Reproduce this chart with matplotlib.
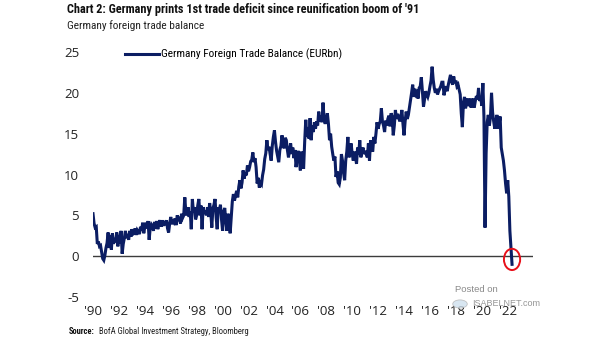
import matplotlib
matplotlib.use("Agg")
import matplotlib.pyplot as plt
from matplotlib.patches import Ellipse, Circle
import numpy as np

# Monthly German foreign trade balance, EUR bn, Jan 1990 - May 2022
bal_1990s = [
    5.2, 4.0, 3.5, 3.6, 1.5, 1.8, 1.2, 1.3, 0.5, -0.3, -0.5, 0.1,   # 1990
    1.0, 1.6, 2.9, 1.0, 2.6, 0.8, 2.8, 1.5, 2.2, 1.7, 2.9, 1.2,     # 1991
    2.6, 1.6, 3.1, 0.3, 1.5, 2.2, 3.1, 2.2, 2.7, 2.0, 3.1, 2.4,     # 1992
    3.3, 2.7, 2.8, 3.4, 2.6, 3.2, 3.0, 2.7, 3.6, 3.1, 4.1, 2.8,     # 1993
    3.6, 4.1, 3.4, 4.3, 2.0, 3.5, 3.9, 3.7, 3.1, 4.2, 3.4, 4.3,     # 1994
    3.3, 4.0, 4.4, 3.6, 4.4, 3.7, 4.3, 3.8, 4.4, 3.4, 2.9, 4.0,     # 1995
    4.8, 3.9, 4.5, 4.2, 4.6, 3.8, 5.0, 4.5, 4.6, 4.0, 5.2, 4.7,     # 1996
    5.0, 7.2, 5.3, 5.0, 6.0, 4.8, 5.5, 3.3, 7.0, 5.4, 6.0, 4.5,     # 1997
    5.0, 6.2, 7.0, 5.0, 6.2, 3.3, 6.0, 5.2, 5.6, 5.0, 6.0, 4.8,     # 1998
    6.5, 5.5, 3.5, 5.8, 6.3, 7.0, 4.8, 3.3, 6.0, 5.5, 6.3, 4.5,     # 1999
]
bal_2000s = [
    3.1, 5.5, 5.9, 4.2, 3.1, 5.2, 4.5, 2.8, 4.8, 6.7, 7.6, 6.8,     # 2000
    7.4, 8.0, 7.2, 8.5, 9.3, 8.3, 9.0, 10.5, 9.5, 10.2, 9.9, 11.1,  # 2001
    10.4, 10.9, 11.6, 11.8, 12.7, 11.5, 12.0, 10.9, 8.9, 9.6, 8.4, 9.0,   # 2002
    8.8, 9.9, 10.6, 11.9, 12.6, 14.2, 13.0, 13.4, 12.5, 11.7, 13.5, 14.6, # 2003
    15.4, 14.0, 12.9, 12.2, 11.5, 13.0, 13.5, 14.8, 13.8, 13.2, 14.5, 14.2, # 2004
    13.0, 12.1, 13.0, 13.8, 12.5, 13.3, 12.0, 13.0, 10.9, 12.0, 12.9, 11.8, # 2005
    10.5, 12.8, 11.5, 10.7, 14.0, 16.7, 14.6, 15.8, 14.4, 16.9, 14.2, 16.0, # 2006
    15.2, 16.4, 15.6, 16.5, 16.0, 17.7, 16.5, 17.2, 16.4, 18.8, 16.8, 16.2, # 2007
    16.8, 17.5, 16.2, 14.2, 15.0, 13.4, 12.5, 11.7, 12.2, 9.7, 10.4, 9.0,   # 2008
    8.8, 9.6, 12.5, 11.7, 10.2, 9.3, 11.7, 12.8, 14.6, 12.1, 12.6, 13.8,    # 2009
]
bal_2010s = [
    12.5, 11.7, 12.8, 12.2, 11.3, 13.3, 12.4, 14.2, 12.1, 12.8, 13.3, 12.5, # 2010
    12.9, 12.5, 12.1, 13.8, 11.7, 14.2, 13.2, 12.8, 14.6, 13.8, 15.0, 16.4, # 2011
    15.6, 16.2, 16.5, 18.1, 16.5, 16.0, 15.2, 16.6, 16.0, 16.8, 17.2, 15.9, # 2012
    17.5, 17.1, 14.8, 16.0, 17.9, 16.8, 17.4, 17.1, 16.5, 17.0, 17.9, 16.2, # 2013
    14.8, 16.5, 17.7, 16.8, 17.3, 18.2, 19.1, 20.0, 21.0, 19.5, 20.5, 19.8, # 2014
    20.0, 19.3, 20.6, 20.8, 21.9, 20.2, 18.3, 19.2, 20.2, 19.8, 19.5, 20.0, # 2015
    20.8, 21.5, 23.2, 21.6, 20.6, 20.0, 20.5, 19.8, 20.2, 20.5, 20.8, 21.3, # 2016
    21.3, 19.7, 20.4, 20.8, 20.2, 21.0, 21.6, 22.2, 21.4, 21.0, 22.0, 21.2, # 2017
    21.5, 20.8, 21.0, 20.4, 19.8, 17.5, 15.8, 18.8, 19.5, 18.1, 19.3, 18.4, # 2018
    18.7, 19.3, 18.2, 18.8, 19.3, 18.2, 19.0, 19.6, 19.2, 20.6, 19.0, 19.5, # 2019
]
bal_2020s = [
    18.4, 21.2, 17.0, 3.5, 12.6, 16.4, 17.3, 16.0, 17.0, 20.0, 17.6, 16.5, # 2020
    15.6, 16.5, 17.3, 15.6, 16.2, 17.1, 13.3, 12.5, 11.7, 10.5, 8.9, 7.7,  # 2021
    9.3, 7.3, 3.1, 1.0, -1.0,                                              # 2022
]
balance = np.array(bal_1990s + bal_2000s + bal_2010s + bal_2020s)
months = 1990 + np.arange(len(balance)) / 12.0

tick_years = list(range(1990, 2023, 2))
tick_labels = ["'" + str(y)[2:] for y in tick_years]
y_ticks = [-5, 0, 5, 10, 15, 20, 25]

navy = "#0b1d63"
narrow = ["Roboto Condensed", "DejaVu Sans"]

W, H = 605, 341
fig = plt.figure(figsize=(W / 100, H / 100), dpi=100)
renderer = fig.canvas.get_renderer()
ax = fig.add_axes([93 / W, 1 - 297 / H, 440 / W, 245 / H])


def fit(txt, width_px, max_size):
    # shrink a text until it spans the wanted width
    txt.set_fontsize(max_size)
    w = txt.get_window_extent(renderer).width
    if w > width_px:
        txt.set_fontsize(max_size * width_px / w)
    return txt


ax.axhline(0, color="#3c3c3c", lw=1.0, zorder=1)
ax.plot(months, balance, color=navy, lw=2.2, solid_joinstyle="miter",
        label="Germany Foreign Trade Balance (EURbn)", zorder=3)

# last print, first deficit
ax.add_patch(Ellipse((months[-1], balance[-1] + 0.6), 1.25, 2.6,
                     fill=False, edgecolor="#e8101a", lw=1.4, zorder=4))

ax.set_xlim(1990, 1990 + 440 / 12.96)
ax.set_ylim(-5, 25)
ax.set_xticks(tick_years)
ax.set_xticklabels(tick_labels)
ax.set_yticks(y_ticks)
ax.set_yticklabels([str(v) for v in y_ticks])
ax.tick_params(length=0, labelsize=9.5, colors="#222222")
ax.tick_params(axis="y", pad=10)
ax.tick_params(axis="x", pad=6)
for lab in ax.get_xticklabels() + ax.get_yticklabels():
    lab.set_family(["Open Sans", "DejaVu Sans"])
for s in ax.spines.values():
    s.set_visible(False)

leg = ax.legend(loc="upper left", bbox_to_anchor=(125 / W, 1 - 49 / H),
                bbox_transform=fig.transFigure, frameon=False, handlelength=2.7,
                handletextpad=0.15, borderaxespad=0, borderpad=0,
                prop={"family": narrow, "stretch": "condensed", "size": 9})
fit(leg.get_texts()[0], 182, 9)

title = fig.text(67 / W, 1 - 10 / H,
                 "Chart 2: Germany prints 1st trade deficit since reunification boom of '91",
                 fontweight="bold", va="center", color="#111111",
                 family=narrow, fontstretch="condensed")
fit(title, 352, 10.5)
sub = fig.text(67 / W, 1 - 26 / H, "Germany foreign trade balance",
               va="center", color="#222222", family=narrow, fontstretch="condensed")
fit(sub, 138, 9.5)

src = fig.text(69 / W, 1 - 332 / H, "Source:", fontweight="bold",
               va="center", color="#111111", family=narrow, fontstretch="condensed")
fit(src, 26, 7.5)
src_end = src.get_window_extent(renderer).x1
rest = fig.text((src_end + 4) / W, 1 - 332 / H,
                "BofA Global Investment Strategy, Bloomberg",
                va="center", color="#222222", family=narrow, fontstretch="condensed")
fit(rest, 250 - src_end - 4, 7.5)

# site stamp
fig.text(455 / W, 1 - 289 / H, "Posted on", fontsize=6.8, color="#8a8a8a",
         va="center", family=["Liberation Sans", "DejaVu Sans"])
fig.patches.append(Circle((460 / W, 1 - 304 / H), 0.012, transform=fig.transFigure,
                          facecolor="#cfe0ee", edgecolor="#b5b5b5", lw=0.6, alpha=0.8))
wm = fig.text(472 / W, 1 - 303 / H, "ISABELNET.com", color="#8a8a8a",
              va="center", family=["Liberation Sans", "DejaVu Sans"], alpha=0.9)
fit(wm, 68, 8)

fig.savefig("out.png", dpi=100)
